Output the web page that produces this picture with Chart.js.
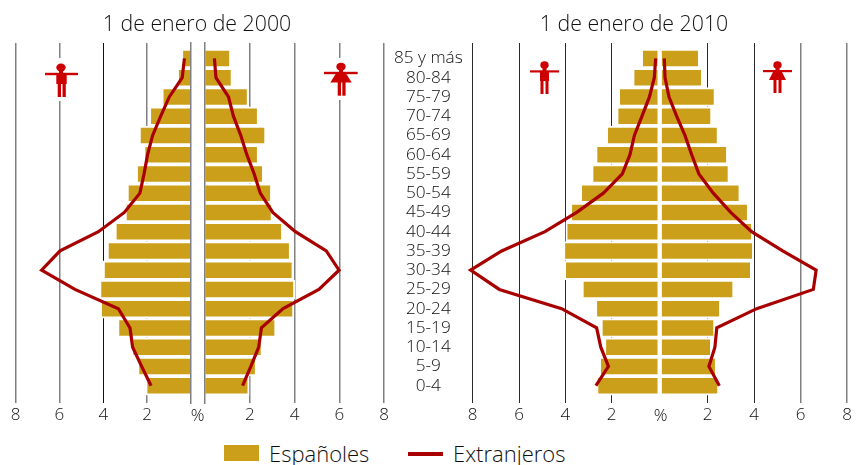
<!DOCTYPE html>
<html lang="es">
<head>
<meta charset="utf-8">
<title>Pirámides de población</title>
<script src="https://cdn.jsdelivr.net/npm/chart.js@4/dist/chart.umd.min.js"></script>
<style>
    html, body { margin: 0; background: #fff; }
    #page { position: relative; width: 860px; height: 465px; overflow: hidden; font-family: "Open Sans", "Noto Sans", sans-serif; color: #101010; }
    #page canvas { position: absolute; top: 0; }
    .txt { position: absolute; white-space: nowrap; font-weight: 300; transform: translate(-50%, -50%); }
    .title { font-size: 21.3px; top: 22px; }
    .pct { font-size: 17px; top: 414px; }
    .leg { position: absolute; white-space: nowrap; font-size: 22px; font-weight: 300; top: 438px; }
    .icon { position: absolute; overflow: visible; }
</style>
</head>
<body>
<div id="page">
    <canvas id="c2000m" width="195" height="430" style="left:0"></canvas>
    <canvas id="c2000f" width="191" height="430" style="left:201px"></canvas>
    <canvas id="c2010m" width="274" height="430" style="left:386px"></canvas>
    <canvas id="c2010f" width="201" height="430" style="left:659px"></canvas>

    <div class="txt title" style="left:197px">1 de enero de 2000</div>
    <div class="txt title" style="left:634px">1 de enero de 2010</div>
    <div class="txt pct" style="left:197.5px">%</div>
    <div class="txt pct" style="left:660.5px">%</div>

    <!-- simbolos hombre / mujer -->
    <svg class="icon" style="left:41px;top:58px" width="40" height="44"><rect x="14" width="12" height="43" fill="#fff"/><g fill="#c00"><ellipse cx="20" cy="9.500" rx="4.700" ry="4"/><rect x="18" y="12" width="4" height="4"/><rect x="4" y="14.800" width="33" height="2.400"/><rect x="15.300" y="15" width="10.400" height="11"/><rect x="16.700" y="26" width="3.300" height="13"/><rect x="21.500" y="26" width="3.300" height="13"/></g></svg>
    <svg class="icon" style="left:321px;top:58px" width="40" height="44"><rect x="14" width="10" height="42" fill="#fff"/><g fill="#c00"><ellipse cx="20" cy="8.700" rx="4.700" ry="4"/><rect x="18" y="11" width="4" height="4"/><rect x="3" y="13.800" width="33.700" height="2.400"/><path d="M15.300 15 H24.700 L30.700 24.500 H9.300 Z"/><rect x="16.700" y="24" width="3.300" height="13.700"/><rect x="21.300" y="24" width="3.300" height="13.700"/></g></svg>
    <svg class="icon" style="left:525px;top:55px" width="40" height="44"><g fill="#c00"><ellipse cx="19.500" cy="10" rx="4.200" ry="3.800"/><rect x="17.500" y="13" width="4" height="3"/><rect x="5" y="15.300" width="29" height="2.200"/><rect x="15" y="16" width="9" height="10"/><rect x="15.500" y="26" width="3" height="13"/><rect x="20.500" y="26" width="3" height="13"/></g></svg>
    <svg class="icon" style="left:757px;top:55px" width="40" height="44"><g fill="#c00"><ellipse cx="20.500" cy="10" rx="4.200" ry="3.800"/><rect x="18.500" y="13" width="4" height="3"/><rect x="6" y="15" width="29" height="2.200"/><path d="M16.500 16 H24.500 L29 25 H12 Z"/><rect x="16.500" y="25" width="3" height="13"/><rect x="21.500" y="25" width="3" height="13"/></g></svg>

    <!-- leyenda -->
    <div style="position:absolute;left:224px;top:445px;width:35px;height:16px;background:#cc9f1a"></div>
    <div class="leg" style="left:269px">Españoles</div>
    <div style="position:absolute;left:408px;top:452px;width:35px;height:4px;background:#a80000"></div>
    <div class="leg" style="left:453px">Extranjeros</div>
</div>

<script>
// Grupos de edad, de arriba a abajo
var ages = ["85 y más", "80-84", "75-79", "70-74", "65-69", "60-64", "55-59", "50-54", "45-49",
    "40-44", "35-39", "30-34", "25-29", "20-24", "15-19", "10-14", "5-9", "0-4"];

var xTicks = [0, 2, 4, 6, 8];

// 1 de enero de 2000
var esp2000Hombres = [0.36, 0.55, 1.25, 1.82, 2.29, 2.08, 2.42, 2.84, 2.93, 3.39, 3.75, 3.93, 4.09, 4.06, 3.27, 2.63, 2.36, 1.99];
var ext2000Hombres = [0.30, 0.40, 0.99, 1.38, 1.75, 1.98, 2.14, 2.33, 3.04, 4.22, 5.97, 6.81, 5.29, 3.31, 2.78, 2.66, 2.25, 1.82];
var esp2000Mujeres = [1.08, 1.15, 1.87, 2.32, 2.65, 2.32, 2.55, 2.91, 2.94, 3.40, 3.75, 3.87, 3.94, 3.90, 3.10, 2.49, 2.23, 1.90];
var ext2000Mujeres = [0.42, 0.49, 1.05, 1.27, 1.60, 1.87, 2.20, 2.47, 3.03, 4.04, 5.42, 5.99, 5.09, 3.49, 2.52, 2.40, 2.05, 1.68];

// 1 de enero de 2010
var esp2010Hombres = [0.65, 1.02, 1.64, 1.71, 2.16, 2.62, 2.79, 3.28, 3.71, 3.91, 4.01, 3.97, 3.21, 2.63, 2.39, 2.24, 2.46, 2.58];
var ext2010Hombres = [0.10, 0.16, 0.37, 0.69, 1.02, 1.21, 1.54, 2.36, 3.51, 4.88, 6.75, 8.09, 6.85, 4.16, 2.65, 2.47, 2.14, 2.68];
var esp2010Mujeres = [1.58, 1.71, 2.26, 2.11, 2.39, 2.79, 2.86, 3.33, 3.69, 3.87, 3.91, 3.82, 3.06, 2.49, 2.24, 2.10, 2.31, 2.41];
var ext2010Mujeres = [0.13, 0.16, 0.33, 0.66, 1.02, 1.31, 1.62, 2.24, 2.99, 3.89, 5.23, 6.67, 6.55, 4.11, 2.39, 2.31, 2.05, 2.50];

var GOLD = "#cc9f1a";
var RED = "#a80000";
var GREY = "#808080";
var DARK = "#2a2a2a";

function toPoints(values) {
    return values.map((v, i) => ({ x: v, y: i }));
}

// Media piramide: un canvas por cada lado
function createHalf(id, spanish, foreign, opt) {
    var yAxis = {
        type: "linear",
        reverse: true,
        offset: false,
        min: -0.8,
        max: 17.9,
        afterFit: s => { s.width = opt.axisWidth || 0; },
        position: opt.side,
        grid: { display: false, drawTicks: false },
        border: { display: !!opt.zeroLine, color: GREY, width: 1.5, z: 1 },
        ticks: {
            display: !!opt.axisWidth,
            stepSize: 1,
            autoSkip: false,
            includeBounds: false,
            crossAlign: "center",
            padding: 10,
            color: "#101010",
            font: { family: "'Open Sans'", size: 17.2, weight: 300 },
            callback: v => ages[v] || ""
        }
    };
    new Chart(document.getElementById(id), {
        type: "bar",
        data: {
            datasets: [
                { type: "line", data: toPoints(foreign), borderColor: RED, borderWidth: 3.2, pointRadius: 0, tension: 0, clip: false, order: 0 },
                { type: "bar", data: toPoints(spanish), backgroundColor: GOLD, borderColor: "#fff", borderWidth: 2, inflateAmount: 2, barThickness: 15.5, clip: 0, order: 1 }
            ]
        },
        options: {
            indexAxis: "y",
            responsive: false,
            animation: false,
            plugins: { legend: { display: false }, tooltip: { enabled: false } },
            layout: { autoPadding: false, padding: opt.padding },
            scales: {
                x: {
                    type: "linear",
                    min: 0,
                    max: 8,
                    reverse: opt.reverse,
                    afterFit: s => { s.height = 27; },
                    afterBuildTicks: s => { s.ticks = xTicks.map(v => ({ value: v })); },
                    border: { display: false },
                    grid: {
                        drawTicks: false,
                        color: c => c.tick && c.tick.value === 0 ? "transparent" : opt.gridColors[c.tick.value],
                        lineWidth: c => c.tick && opt.gridColors[c.tick.value] === GREY ? 1.5 : 1
                    },
                    ticks: {
                        maxRotation: 0,
                        padding: 2,
                        color: "#101010",
                        font: { family: "'Open Sans'", size: 17, weight: 300 },
                        callback: v => v === 0 ? "" : String(v)
                    }
                },
                y: yAxis
            }
        }
    });
}

createHalf("c2000m", esp2000Hombres, ext2000Hombres, {
    reverse: true, side: "right", zeroLine: true,
    padding: { left: 15.5, right: 4, top: 43, bottom: 0 },
    gridColors: { 2: GREY, 4: "#111", 6: GREY, 8: GREY }
});
createHalf("c2000f", esp2000Mujeres, ext2000Mujeres, {
    reverse: false, side: "left", zeroLine: true,
    padding: { left: 4, right: 8, top: 43, bottom: 0 },
    gridColors: { 2: GREY, 4: GREY, 6: GREY, 8: GREY }
});
createHalf("c2010m", esp2010Hombres, ext2010Hombres, {
    reverse: true, side: "left", axisWidth: 86.7,
    padding: { left: 0, right: 2, top: 43, bottom: 0 },
    gridColors: { 2: DARK, 4: DARK, 6: DARK, 8: DARK }
});
createHalf("c2010f", esp2010Mujeres, ext2010Mujeres, {
    reverse: false, side: "right",
    padding: { left: 2.3, right: 13, top: 43, bottom: 0 },
    gridColors: { 2: DARK, 4: DARK, 6: GREY, 8: GREY }
});
</script>
</body>
</html>
